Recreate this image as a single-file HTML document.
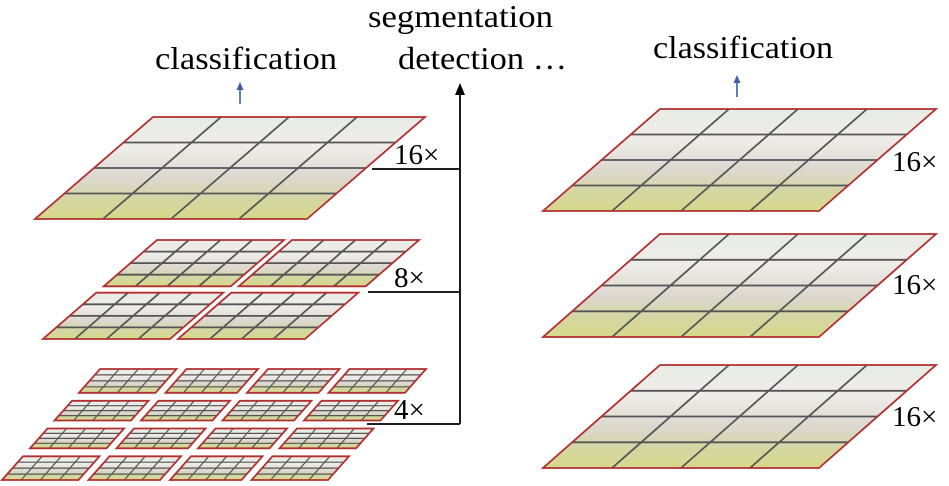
<!DOCTYPE html>
<html><head><meta charset="utf-8"><style>
html,body{margin:0;padding:0;background:#fff;}
svg{display:block}
text{font-family:"Liberation Serif",serif;fill:#000}
</style></head><body>
<svg id="s" width="949" height="486" viewBox="0 0 949 486" xmlns="http://www.w3.org/2000/svg">
<defs>
<linearGradient id="g" x1="0" y1="0" x2="0" y2="1">
<stop offset="0" stop-color="#e8ebe6"/>
<stop offset="0.3" stop-color="#efede9"/>
<stop offset="0.6" stop-color="#dcd8d0"/>
<stop offset="0.8" stop-color="#d4d6a4"/>
<stop offset="1" stop-color="#d6d98a"/>
</linearGradient>
</defs>
<g id="tiles"></g>
<text x="155" y="69" font-size="32" textLength="182" lengthAdjust="spacingAndGlyphs">classification</text>
<text x="368" y="27" font-size="32" textLength="185" lengthAdjust="spacingAndGlyphs">segmentation</text>
<text x="398" y="69" font-size="32" textLength="169" lengthAdjust="spacingAndGlyphs">detection …</text>
<text x="653" y="58" font-size="32" textLength="180" lengthAdjust="spacingAndGlyphs">classification</text>
<line x1="240" y1="104" x2="240" y2="88" stroke="#3b5ea8" stroke-width="1.6"/>
<path d="M236.5,90 L240,82 L243.5,90 Z" fill="#3b5ea8"/>
<line x1="737" y1="97" x2="737" y2="81" stroke="#3b5ea8" stroke-width="1.6"/>
<path d="M733.5,83 L737,75 L740.5,83 Z" fill="#3b5ea8"/>
<path d="M460,424 L460,88 M372,169 L460,169 M368,292 L460,292 M367,424 L460,424" stroke="#000" stroke-width="1.8" fill="none"/>
<path d="M455,95 L460,83 L465,95 Z" fill="#000"/>
<text x="394" y="164" font-size="29">16×</text>
<text x="394" y="287" font-size="29">8×</text>
<text x="394" y="419" font-size="29">4×</text>
<text x="892" y="171" font-size="29">16×</text>
<text x="892" y="294" font-size="29">16×</text>
<text x="892" y="426" font-size="29">16×</text>
</svg>
<script>
var G=document.getElementById('tiles'),NS='http://www.w3.org/2000/svg';
function el(t,a){var e=document.createElementNS(NS,t);for(var k in a)e.setAttribute(k,a[k]);G.appendChild(e);return e;}
function stage(tl,bl,w,y0,y1,n,m,gap){
 function P(u,v){return [tl+(bl-tl)*v+u*w, y0+(y1-y0)*v];}
 var gu=gap/w, gv=gap/(y1-y0)*0.8;
 for(var i=0;i<n;i++)for(var j=0;j<n;j++){
  var u0=i/n+(i?gu/2:0),u1=(i+1)/n-(i<n-1?gu/2:0);
  var v0=j/n+(j?gv/2:0),v1=(j+1)/n-(j<n-1?gv/2:0);
  var pts=[P(u0,v0),P(u1,v0),P(u1,v1),P(u0,v1)];
  var d='M'+pts.map(function(p){return p[0].toFixed(1)+','+p[1].toFixed(1)}).join(' L')+' Z';
  el('path',{d:d,fill:'url(#g)'});
  var gl='';
  for(var k=1;k<m;k++){
   var u=u0+(u1-u0)*k/m,v=v0+(v1-v0)*k/m;
   var a1=P(u,v0),a2=P(u,v1),b1=P(u0,v),b2=P(u1,v);
   gl+='M'+a1[0].toFixed(1)+','+a1[1].toFixed(1)+' L'+a2[0].toFixed(1)+','+a2[1].toFixed(1)+' ';
   gl+='M'+b1[0].toFixed(1)+','+b1[1].toFixed(1)+' L'+b2[0].toFixed(1)+','+b2[1].toFixed(1)+' ';
  }
  el('path',{d:gl,stroke:'#555','stroke-width':n>2?1.2:1.8,fill:'none'});
  el('path',{d:d,fill:'none',stroke:'#b03030','stroke-width':1.8});
 }
}
stage(153,35,272,117,219,1,4,0);
stage(157,43,262,240,339,2,4,8);
stage(100,2,326,369,480,4,4,10);
stage(660,543,276,109,211,1,4,0);
stage(660,543,276,234,337,1,4,0);
stage(660,543,276,365,468,1,4,0);
</script>
</body></html>
